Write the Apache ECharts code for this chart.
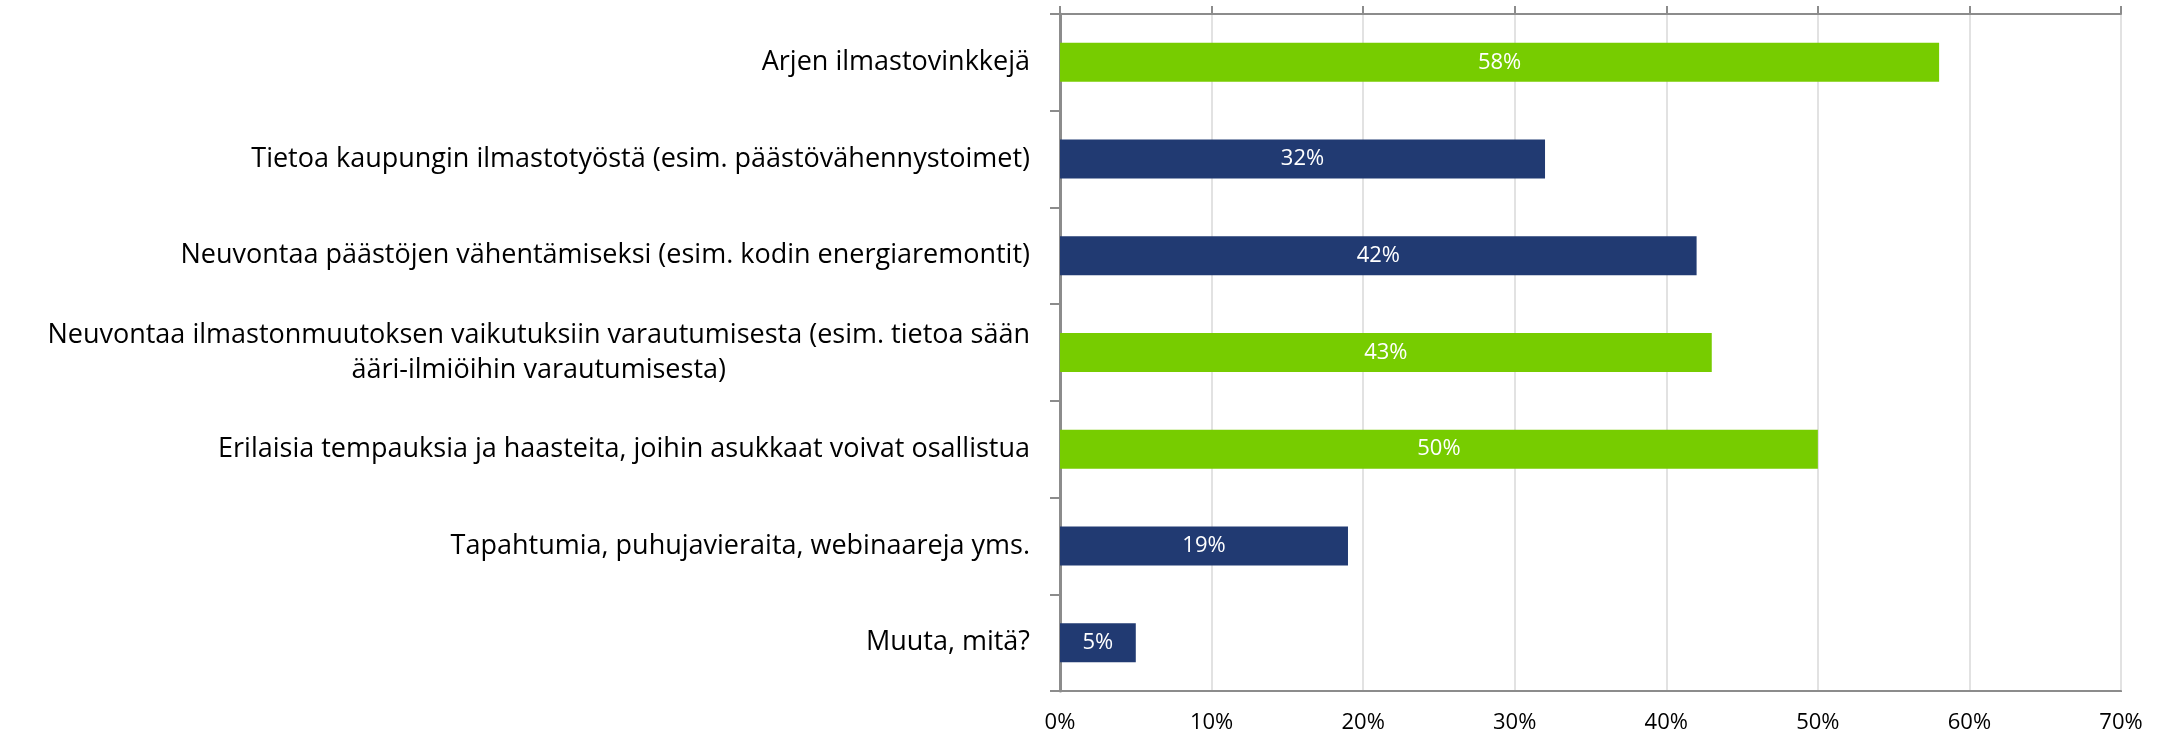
<!DOCTYPE html>
<html>
<head>
<meta charset="utf-8">
<script src="https://cdn.jsdelivr.net/npm/echarts@6/dist/echarts.min.js"></script>
<style>
html,body{margin:0;padding:0;background:#fff;}
#chart{width:2159px;height:738px;}
</style>
</head>
<body>
<div id="chart"></div>
<script>
const categories = [
  "Arjen ilmastovinkkejä",
  "Tietoa kaupungin ilmastotyöstä (esim. päästövähennystoimet)",
  "Neuvontaa päästöjen vähentämiseksi (esim. kodin energiaremontit)",
  "Neuvontaa ilmastonmuutoksen vaikutuksiin varautumisesta (esim. tietoa sään\nääri-ilmiöihin varautumisesta)",
  "Erilaisia tempauksia ja haasteita, joihin asukkaat voivat osallistua",
  "Tapahtumia, puhujavieraita, webinaareja yms.",
  "Muuta, mitä?"
];
const values = [58, 32, 42, 43, 50, 19, 5];
const barColors = ["#77CC00", "#213A72", "#213A72", "#77CC00", "#77CC00", "#213A72", "#213A72"];
const xTicks = [0, 10, 20, 30, 40, 50, 60, 70];

const FONT = "Open Sans";
const CAT_SIZE = 27;
const chart = echarts.init(document.getElementById('chart'), null, {renderer: 'canvas'});
chart.setOption({
  animation: false,
  backgroundColor: '#ffffff',
  grid: {left: 1060, right: 38, top: 14, bottom: 47, show: true, borderColor: '#8c8c8c', borderWidth: 2},
  xAxis: [{
    type: 'value', position: 'bottom', min: xTicks[0], max: xTicks[xTicks.length - 1], interval: 10,
    axisLine: {show: true, lineStyle: {color: '#8c8c8c', width: 2}},
    axisTick: {show: false},
    splitLine: {show: true, lineStyle: {color: '#e2e2e2', width: 2}},
    axisLabel: {formatter: v => v + '%', color: '#000', fontFamily: FONT, fontSize: 22, margin: 21}
  }, {
    type: 'value', position: 'top', min: xTicks[0], max: xTicks[xTicks.length - 1], interval: 10,
    axisLine: {show: true, lineStyle: {color: '#8c8c8c', width: 2}},
    axisTick: {show: true, length: 8, lineStyle: {color: '#8c8c8c', width: 2}},
    splitLine: {show: false},
    axisLabel: {show: false}
  }],
  yAxis: {
    type: 'category', data: categories, inverse: true,
    axisLine: {show: true, lineStyle: {color: '#8c8c8c', width: 3}},
    axisTick: {show: true, length: 10, lineStyle: {color: '#8c8c8c', width: 2}},
    axisLabel: {
      interval: 0, color: '#000', fontFamily: FONT, fontSize: CAT_SIZE, margin: 30, lineHeight: 35,
      formatter: function (v) {
        const parts = v.split('\n');
        if (parts.length === 1) return '{r|' + v + '}';
        return '{r|' + parts[0] + '}\n{c|' + parts[1] + '}';
      },
      rich: {
        r: {align: 'right', color: '#000', fontFamily: FONT, fontSize: CAT_SIZE, lineHeight: 35},
        c: {align: 'center', color: '#000', fontFamily: FONT, fontSize: CAT_SIZE, lineHeight: 35}
      }
    }
  },
  series: [{
    type: 'bar', xAxisIndex: 0,
    data: values.map((v, i) => ({value: v, itemStyle: {color: barColors[i]}})),
    barWidth: 39,
    label: {show: true, position: 'inside', formatter: '{c}%', color: '#fff', fontFamily: FONT, fontSize: 22}
  }]
});
</script>
</body>
</html>
